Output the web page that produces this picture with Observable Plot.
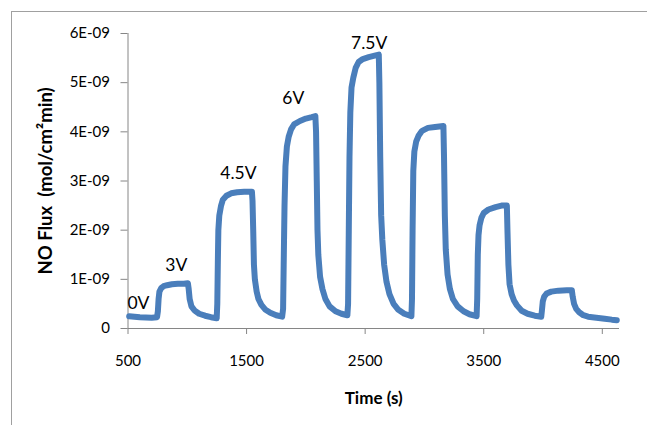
<!DOCTYPE html>
<html><head><meta charset="utf-8">
<script src="https://cdn.jsdelivr.net/npm/d3@7"></script>
<script src="https://cdn.jsdelivr.net/npm/@observablehq/plot@0.6"></script>
<style>
html,body{margin:0;padding:0;background:#fff;}
#wrap{position:relative;width:647px;height:425px;overflow:hidden;}
#border{position:absolute;left:11px;top:11px;width:700px;height:500px;border:1.5px solid #a0a0a0;}
#chart{position:absolute;left:0;top:0;}
</style></head><body>
<div id="wrap"><div id="border"></div><div id="chart"></div></div>
<script>
// Time (s)
const time = [
  510,600,700,745,
  752,758,765,780,800,830,870,920,970,1005,
  1012,1020,1035,1060,1100,1150,1200,1248,
  1253,1258,1262,1270,1285,1300,1330,1370,1420,1480,1545,
  1550,1556,1562,1570,1585,1600,1625,1660,1700,1750,1800,
  1808,1813,1820,1828,1840,1855,1875,1900,1950,2000,2050,2080,
  2086,2092,2098,2105,2120,2140,2165,2200,2250,2300,2350,
  2356,2362,2368,2375,2385,2400,2420,2445,2480,2530,2580,2615,
  2620,2627,2635,2645,2660,2680,2705,2740,2780,2830,2890,
  2895,2900,2906,2915,2930,2950,2980,3030,3090,3160,
  3165,3172,3180,3195,3215,3240,3280,3330,3380,3440,
  3445,3450,3456,3465,3480,3500,3540,3600,3650,3695,
  3700,3708,3718,3735,3755,3780,3820,3870,3930,3985,
  3990,3998,4010,4030,4070,4130,4200,4243,
  4250,4262,4280,4305,4340,4380,4450,4520,4580,4622
];
// NO flux in units of 1E-09 mol/cm2 min
const fluxNano = [
  0.25,0.23,0.22,0.23,
  0.35,0.6,0.75,0.82,0.86,0.88,0.9,0.91,0.91,0.92,
  0.8,0.6,0.45,0.37,0.3,0.26,0.23,0.21,
  0.5,1.4,2.0,2.3,2.5,2.62,2.7,2.75,2.77,2.78,2.78,
  2.6,2.0,1.3,1.0,0.75,0.6,0.48,0.38,0.32,0.27,0.24,
  0.4,1.3,2.5,3.3,3.7,3.9,4.05,4.15,4.22,4.27,4.3,4.32,
  4.0,3.0,2.0,1.5,1.05,0.8,0.6,0.45,0.35,0.3,0.27,
  0.5,2.0,3.5,4.4,4.9,5.1,5.3,5.42,5.48,5.52,5.55,5.57,
  5.0,3.5,2.3,1.8,1.3,0.95,0.7,0.5,0.38,0.3,0.25,
  0.6,2.0,3.2,3.6,3.8,3.92,4.02,4.08,4.1,4.12,
  3.5,2.3,1.6,1.1,0.8,0.6,0.45,0.35,0.29,0.25,
  0.6,1.5,1.9,2.1,2.25,2.35,2.42,2.47,2.5,2.5,
  2.0,1.3,0.9,0.7,0.57,0.47,0.36,0.3,0.26,0.24,
  0.35,0.55,0.65,0.71,0.75,0.77,0.78,0.78,
  0.65,0.5,0.4,0.33,0.27,0.24,0.22,0.2,0.18,0.17
];
const voltLabels = ["0V", "3V", "4.5V", "6V", "7.5V"];
const voltLabelTime = [588, 907, 1431, 1894, 2534];
const voltLabelFluxNano = [0.52, 1.29, 3.16, 4.68, 5.8];
const xTicks = [500, 1500, 2500, 3500, 4500];
const yTicks = [0, 1e-9, 2e-9, 3e-9, 4e-9, 5e-9, 6e-9];
const yTickLabels = ["0", "1E-09", "2E-09", "3E-09", "4E-09", "5E-09", "6E-09"];
const xTitle = "Time (s)";
const yTitle = "NO Flux  (mol/cm\u00B2min)";

const data = time.map((t, i) => ({t, flux: fluxNano[i] * 1e-9}));
const labels = voltLabels.map((s, i) => ({s, t: voltLabelTime[i], flux: voltLabelFluxNano[i] * 1e-9}));

const axisGrey = "#868686";
const chart = Plot.plot({
  width: 647, height: 425,
  marginLeft: 127.5, marginRight: 28, marginTop: 33, marginBottom: 97,
  style: {fontFamily: "Lato, sans-serif", fontSize: "15px", color: "#000", background: "transparent", overflow: "visible"},
  x: {domain: [500, 4645]},
  y: {domain: [0, 6e-9]},
  marks: [
    Plot.axisX({ticks: xTicks, tickFormat: d => String(d), tickSize: 6, tickPadding: 21, stroke: axisGrey, fill: "#000", label: null}),
    Plot.axisY({ticks: yTicks, tickFormat: d => yTickLabels[yTicks.indexOf(d)], tickSize: 7, tickPadding: 11, stroke: axisGrey, fill: "#000", label: null}),
    Plot.ruleY([0], {stroke: axisGrey}),
    Plot.ruleX([500], {stroke: axisGrey}),
    Plot.line(data, {x: "t", y: "flux", stroke: "#4a7ebb", strokeWidth: 6, strokeLinejoin: "round", strokeLinecap: "round"}),
    Plot.text(labels, {x: "t", y: "flux", text: "s", fontSize: 17.5, fill: "#000"}),
    Plot.text([xTitle], {frameAnchor: "bottom", dy: 70, textAnchor: "middle", lineAnchor: "middle", fontWeight: "bold", fontSize: 17, fill: "#000"}),
    Plot.text([yTitle], {frameAnchor: "left", dx: -82, rotate: -90, textAnchor: "middle", lineAnchor: "middle", fontWeight: "bold", fontSize: 18.5, fill: "#000"})
  ]
});
document.getElementById("chart").appendChild(chart);
</script>
</body></html>
